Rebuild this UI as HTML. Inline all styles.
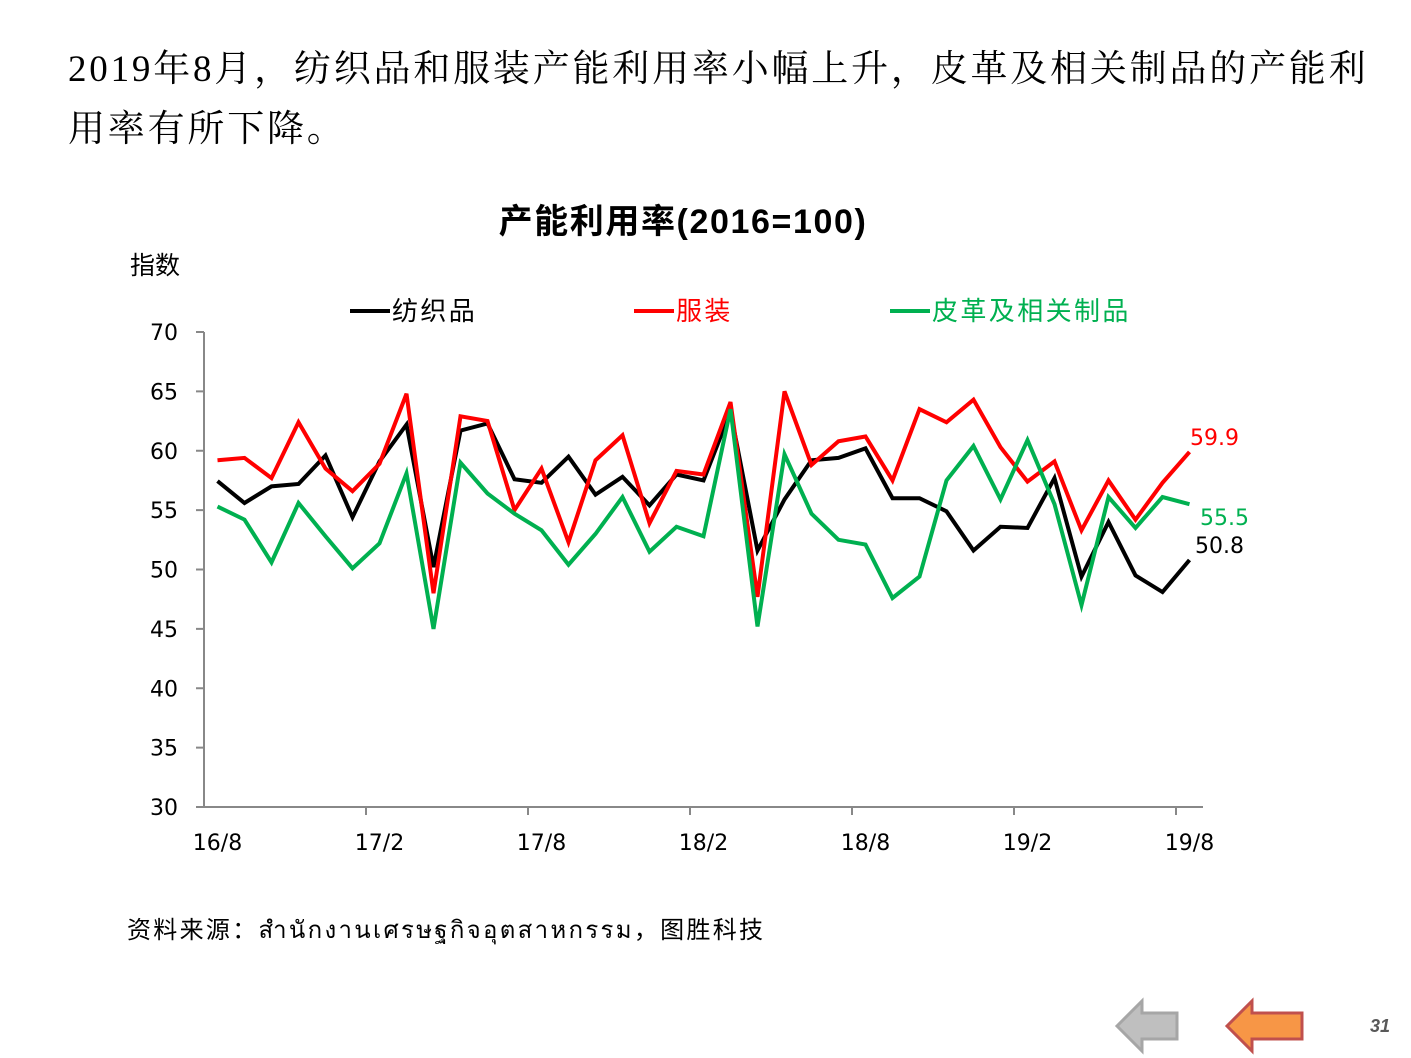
<!DOCTYPE html>
<html><head><meta charset="utf-8"><style>
body{margin:0;background:#fff;width:1411px;height:1058px;overflow:hidden;position:relative;font-family:"Liberation Sans","Noto Sans CJK SC",sans-serif}
.hd{position:absolute;left:68px;top:40px;width:1340px;white-space:nowrap;font-family:"Liberation Serif","Noto Serif CJK SC",serif;font-size:37px;letter-spacing:2.8px;line-height:60px;color:#000}
</style></head><body>
<div class="hd">2019年8月，纺织品和服装产能利用率小幅上升，皮革及相关制品的产能利<br>用率有所下降。</div>
<svg id="c" width="1411" height="1058" style="position:absolute;left:0;top:0"></svg>
<script>
const categories=["16/8","16/9","16/10","16/11","16/12","17/1","17/2","17/3","17/4","17/5","17/6","17/7","17/8","17/9","17/10","17/11","17/12","18/1","18/2","18/3","18/4","18/5","18/6","18/7","18/8","18/9","18/10","18/11","18/12","19/1","19/2","19/3","19/4","19/5","19/6","19/7","19/8"];
const textiles=[57.45,55.6,57.0,57.2,59.6,54.4,59.1,62.2,50.2,61.7,62.3,57.6,57.3,59.5,56.3,57.8,55.4,58.0,57.5,63.3,51.6,55.9,59.2,59.4,60.2,56.0,56.0,54.9,51.6,53.6,53.5,57.7,49.4,54.0,49.5,48.1,50.8];
const apparel=[59.2,59.4,57.7,62.4,58.5,56.6,58.9,64.8,48.0,62.9,62.5,55.0,58.5,52.3,59.2,61.3,53.9,58.3,58.0,64.1,47.7,65.0,58.8,60.8,61.2,57.5,63.5,62.4,64.3,60.3,57.4,59.1,53.3,57.5,54.2,57.3,59.9];
const leather=[55.3,54.2,50.6,55.6,52.8,50.1,52.2,58.1,45.0,59.0,56.4,54.7,53.3,50.4,53.0,56.1,51.5,53.6,52.8,63.5,45.2,59.7,54.7,52.5,52.1,47.6,49.4,57.5,60.4,55.9,60.9,55.5,47.0,56.1,53.5,56.1,55.5];
const yTicks=[30,35,40,45,50,55,60,65,70];
const NS="http://www.w3.org/2000/svg";
const svg=document.getElementById('c');
const x0=204,x1=1203,y0=807,y1=332,vmin=30,vmax=70;
const bw=(x1-x0)/categories.length;
const X=i=>x0+bw*(i+0.5);
const Y=v=>y0-(v-vmin)/(vmax-vmin)*(y0-y1);
const NUM='"DejaVu Sans",sans-serif';
function mk(t,a,txt){const e=document.createElementNS(NS,t);for(const k in a)e.setAttribute(k,a[k]);if(txt!=null)e.textContent=txt;svg.appendChild(e);return e;}
let e;
e=mk('text',{x:683,y:233,'text-anchor':'middle','font-size':34,'font-weight':'bold','letter-spacing':1.6},'产能利用率(2016=100)');


e=mk('text',{x:130,y:274,'font-size':25},'指数');


yTicks.forEach(v=>{
 e=mk('line',{x1:196,x2:x0,y1:Y(v),y2:Y(v),stroke:'#888','stroke-width':2});
 
 
 e=mk('text',{x:178,y:Y(v)+8,'text-anchor':'end','font-size':22,'font-family':NUM},String(v));
 
 
});
e=mk('line',{x1:x0,x2:x0,y1:y1,y2:y0,stroke:'#888','stroke-width':2});


e=mk('line',{x1:x0,x2:x1,y1:y0,y2:y0,stroke:'#888','stroke-width':2});


categories.forEach((c,i)=>{
 if(i%6===0){
  e=mk('text',{x:X(i),y:850,'text-anchor':'middle','font-size':22,'font-family':NUM},c);
  
  
  if(i>0){e=mk('line',{x1:x0+bw*i,x2:x0+bw*i,y1:y0,y2:y0+8,stroke:'#888','stroke-width':2});
  
  }
 }
});
const series=[[textiles,'#000','textiles-line','纺织品',350],[apparel,'#ff0000','apparel-line','服装',634],[leather,'#00b050','leather-line','皮革及相关制品',890]];
series.forEach(([d,col,nm,lab,lx])=>{
 e=mk('polyline',{points:d.map((v,i)=>X(i)+','+Y(v)).join(' '),fill:'none',stroke:col,'stroke-width':4,'stroke-linejoin':'miter'});
 
 
 e=mk('line',{x1:lx,x2:lx+40,y1:311,y2:311,stroke:col,'stroke-width':4});
 
 
 e=mk('text',{x:lx+42,y:320,'font-size':26,'letter-spacing':2.4,fill:col},lab);
 
 
});
const last=categories.length-1;
e=mk('text',{x:1190,y:Y(apparel[last])-7,'font-size':22,'font-family':NUM,fill:'#ff0000'},apparel[last].toFixed(1));


e=mk('text',{x:1200,y:Y(leather[last])+21,'font-size':22,'font-family':NUM,fill:'#00b050'},leather[last].toFixed(1));


e=mk('text',{x:1195,y:Y(textiles[last])-7,'font-size':22,'font-family':NUM,fill:'#000'},textiles[last].toFixed(1));


e=mk('text',{x:127,y:938,'font-size':24,'letter-spacing':2.3},'资料来源：สำนักงานเศรษฐกิจอุตสาหกรรม，图胜科技');


e=mk('polygon',{points:'1117,1026 1142,1001 1142,1013 1177,1013 1177,1039 1142,1039 1142,1051',fill:'#bfbfbf',stroke:'#a6a6a6','stroke-width':3});


e=mk('polygon',{points:'1227,1026 1252,1001 1252,1013 1302,1013 1302,1039 1252,1039 1252,1051',fill:'#f79646',stroke:'#c0504d','stroke-width':3});


e=mk('text',{x:1370,y:1032,'font-size':18,'font-weight':'bold','font-style':'italic',fill:'#595959'},'31');


</script>
</body></html>
